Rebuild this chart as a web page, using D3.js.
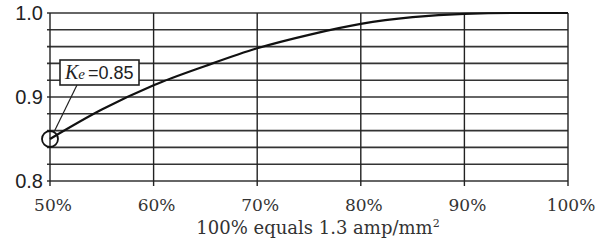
<!DOCTYPE html>
<html>
<head>
<meta charset="utf-8">
<script src="https://cdn.jsdelivr.net/npm/d3@7"></script>
<style>
  body { margin: 0; background: #fff; }
</style>
</head>
<body>
<div class="chart"></div>
<script>
// current density (% of 1.3 amp/mm2) vs Ke
const densityPct = [50, 55, 60, 65, 70, 75, 80, 85, 90, 95, 100];
const keValues = [0.85, 0.885, 0.914, 0.937, 0.958, 0.974, 0.987, 0.995, 0.999, 1.0, 1.0];
const xTicks = [50, 60, 70, 80, 90, 100];
const yTicks = [0.8, 0.9, 1.0];
const yGrid = [0.8, 0.82, 0.84, 0.86, 0.88, 0.9, 0.92, 0.94, 0.96, 0.98, 1.0];
const markerPoint = { pct: 50, ke: 0.85 };

const W = 602, H = 241;
const margin = { top: 13, right: 34, bottom: 60, left: 50 };
const width = W - margin.left - margin.right;
const height = H - margin.top - margin.bottom;

const svg = d3.select(".chart")
    .append("svg")
    .attr("width", W)
    .attr("height", H);

const g = svg.append("g")
    .attr("transform", `translate(${margin.left},${margin.top})`);

const x = d3.scaleLinear().domain([50, 100]).range([0, width]);
const y = d3.scaleLinear().domain([0.8, 1.0]).range([height, 0]);

// horizontal grid
g.selectAll(".hgrid")
    .data(yGrid)
    .enter()
    .append("line")
    .attr("x1", -3)
    .attr("x2", width)
    .attr("y1", d => y(d))
    .attr("y2", d => y(d))
    .attr("stroke", "#333")
    .attr("stroke-width", 1.6);

// vertical grid
g.selectAll(".vgrid")
    .data(xTicks)
    .enter()
    .append("line")
    .attr("x1", d => x(d))
    .attr("x2", d => x(d))
    .attr("y1", 0)
    .attr("y2", height + 5)
    .attr("stroke", "#222")
    .attr("stroke-width", 1.4);

// y labels
g.selectAll(".ylab")
    .data(yTicks)
    .enter()
    .append("text")
    .attr("x", -7)
    .attr("y", d => y(d) + 7)
    .attr("text-anchor", "end")
    .attr("font-family", "Liberation Sans, Arial, sans-serif")
    .attr("font-size", "20px")
    .attr("fill", "#222")
    .text(d => d.toFixed(1));

// x labels
g.selectAll(".xlab")
    .data(xTicks)
    .enter()
    .append("text")
    .attr("x", d => x(d) + 3)
    .attr("y", height + 30)
    .attr("text-anchor", "middle")
    .attr("font-family", "DejaVu Serif, serif")
    .attr("font-size", "17px")
    .attr("fill", "#333")
    .text(d => d + "%");

// axis title
const title = g.append("text")
    .attr("x", width / 2 + 9)
    .attr("y", height + 53)
    .attr("text-anchor", "middle")
    .attr("font-family", "DejaVu Serif, serif")
    .attr("font-size", "18px")
    .attr("fill", "#333");
title.append("tspan").text("100% equals 1.3 amp/mm");
title.append("tspan").attr("font-size", "11px").attr("dy", -7).text("2");

// curve
const line = d3.line()
    .x((d, i) => x(densityPct[i]))
    .y(d => y(d))
    .curve(d3.curveMonotoneX);

g.append("path")
    .datum(keValues)
    .attr("d", line)
    .attr("fill", "none")
    .attr("stroke", "#111")
    .attr("stroke-width", 2.2);

// marker circle and callout
const cx = x(markerPoint.pct), cy = y(markerPoint.ke);
g.append("circle")
    .attr("cx", cx)
    .attr("cy", cy)
    .attr("r", 8)
    .attr("fill", "none")
    .attr("stroke", "#111")
    .attr("stroke-width", 1.8);

const boxX = 10, boxY = 47, boxW = 79, boxH = 25;
g.append("line")
    .attr("x1", boxX + 17)
    .attr("y1", boxY + boxH)
    .attr("x2", cx + 4)
    .attr("y2", cy - 7)
    .attr("stroke", "#222")
    .attr("stroke-width", 1.2);

g.append("rect")
    .attr("x", boxX)
    .attr("y", boxY)
    .attr("width", boxW)
    .attr("height", boxH)
    .attr("fill", "#fff")
    .attr("stroke", "#222")
    .attr("stroke-width", 1.6);

const lbl = g.append("text")
    .attr("x", boxX + 5)
    .attr("y", boxY + 19)
    .attr("fill", "#222");
lbl.append("tspan")
    .attr("font-family", "Liberation Serif, serif")
    .attr("font-style", "italic")
    .attr("font-size", "20px")
    .text("K");
lbl.append("tspan")
    .attr("font-family", "Liberation Serif, serif")
    .attr("font-style", "italic")
    .attr("font-size", "15px")
    .text("e");
lbl.append("tspan")
    .attr("font-family", "Liberation Sans, Arial, sans-serif")
    .attr("font-size", "18px")
    .attr("dx", 3)
    .text("=0.85");
</script>
</body>
</html>
